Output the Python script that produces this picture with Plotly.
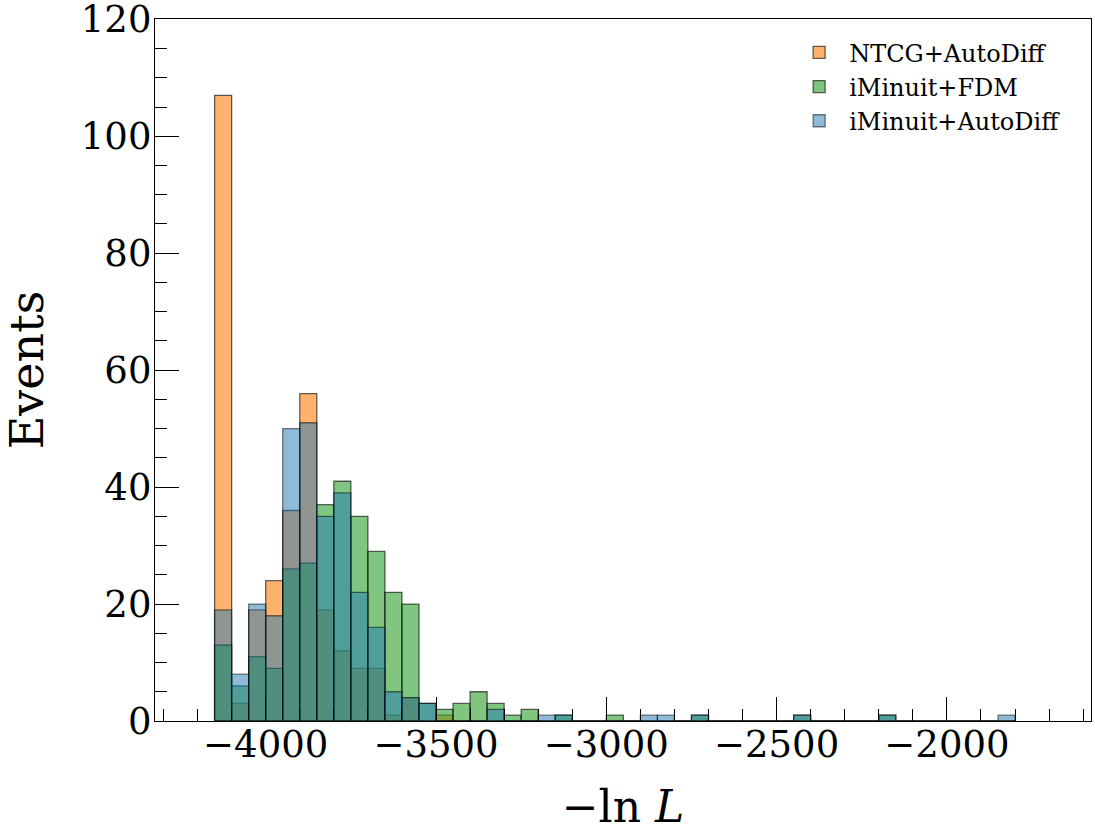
import plotly.graph_objects as go

# histogram bins: left edges, all 50 wide
bin_left = [-4150, -4100, -4050, -4000, -3950, -3900, -3850, -3800, -3750, -3700,
            -3650, -3600, -3550, -3500, -3450, -3400, -3350, -3300, -3250, -3200,
            -3150, -3100, -3050, -3000, -2950, -2900, -2850, -2800, -2750, -2700,
            -2650, -2600, -2550, -2500, -2450, -2400, -2350, -2300, -2250, -2200,
            -2150, -2100, -2050, -2000, -1950, -1900, -1850]
bin_width = 50

ntcg_autodiff = [107, 3, 19, 24, 36, 56, 19, 12, 9, 9, 1, 4, 0, 1, 0, 0, 0, 0, 0, 0,
                 0, 0, 0, 0, 0, 0, 0, 0, 0, 0, 0, 0, 0, 0, 0, 0, 0, 0, 0, 0,
                 0, 0, 0, 0, 0, 0, 0]
iminuit_fdm = [13, 6, 11, 9, 26, 27, 37, 41, 35, 29, 22, 20, 3, 2, 3, 5, 3, 1, 2, 0,
               1, 0, 0, 1, 0, 0, 0, 0, 1, 0, 0, 0, 0, 0, 1, 0, 0, 0, 0, 1,
               0, 0, 0, 0, 0, 0, 0]
iminuit_autodiff = [19, 8, 20, 18, 50, 51, 35, 39, 22, 16, 5, 4, 3, 0, 0, 0, 2, 0, 0, 1,
                    1, 0, 0, 0, 0, 1, 1, 0, 1, 0, 0, 0, 0, 0, 1, 0, 0, 0, 0, 1,
                    0, 0, 0, 0, 0, 0, 1]

x_ticks = [-4000, -3500, -3000, -2500, -2000]
x_ticktext = ["\u22124000", "\u22123500", "\u22123000", "\u22122500", "\u22122000"]
y_ticks = [0, 20, 40, 60, 80, 100, 120]

centers = [b + bin_width / 2 for b in bin_left]
font = "DejaVu Serif"

series = [
    ("NTCG+AutoDiff", ntcg_autodiff, "rgba(255,127,14,0.6)", 0.6),
    ("iMinuit+FDM", iminuit_fdm, "rgba(44,160,44,0.6)", 0.6),
    ("iMinuit+AutoDiff", iminuit_autodiff, "rgba(31,119,180,0.5)", 0.5),
]

fig = go.Figure()
for name, counts, color, a in series:
    fig.add_trace(go.Bar(
        x=centers, y=counts, width=bin_width, name=name,
        marker=dict(color=color, line=dict(color=f"rgba(0,0,0,{a})", width=1.3)),
    ))

fig.update_layout(
    width=1095, height=838,
    barmode="overlay",
    plot_bgcolor="white", paper_bgcolor="white",
    margin=dict(l=155, r=4, t=19, b=117, autoexpand=False),
    font=dict(family=font, color="black"),
    legend=dict(x=0.6775, y=0.984, xanchor="left", yanchor="top",
                font=dict(size=24, family=font), bgcolor="rgba(0,0,0,0)",
                itemwidth=50, tracegroupgap=2),
)
fig.update_xaxes(
    range=[-4325, -1577], tickvals=x_ticks, ticktext=x_ticktext,
    ticks="inside", ticklen=24, tickwidth=1, tickcolor="black",
    minor=dict(ticks="inside", ticklen=12, dtick=100, tick0=-4000, tickwidth=1, tickcolor="black"),
    showline=True, linecolor="black", linewidth=1.3, mirror=True,
    showgrid=False, zeroline=False, automargin=False,
    tickfont=dict(size=37, family=font), ticklabelstandoff=-10, ticklabeloverflow="allow",
    title=dict(text="\u2212ln <i>L</i>", font=dict(size=44, family=font), standoff=26),
)
fig.update_yaxes(
    range=[0, 120.05], tickvals=y_ticks,
    ticks="inside", ticklen=24, tickwidth=1, tickcolor="black",
    minor=dict(ticks="inside", ticklen=12, dtick=5, tickwidth=1, tickcolor="black"),
    showline=True, linecolor="black", linewidth=1.3, mirror=True,
    showgrid=False, zeroline=False, automargin=False,
    tickfont=dict(size=37, family=font), ticklabelstandoff=-5, ticklabeloverflow="allow",
    title=dict(text="Events", font=dict(size=46, family=font), standoff=28),
)

fig.write_html("out.html", config={"displayModeBar": False},
               post_script="document.body.style.margin='0';")
